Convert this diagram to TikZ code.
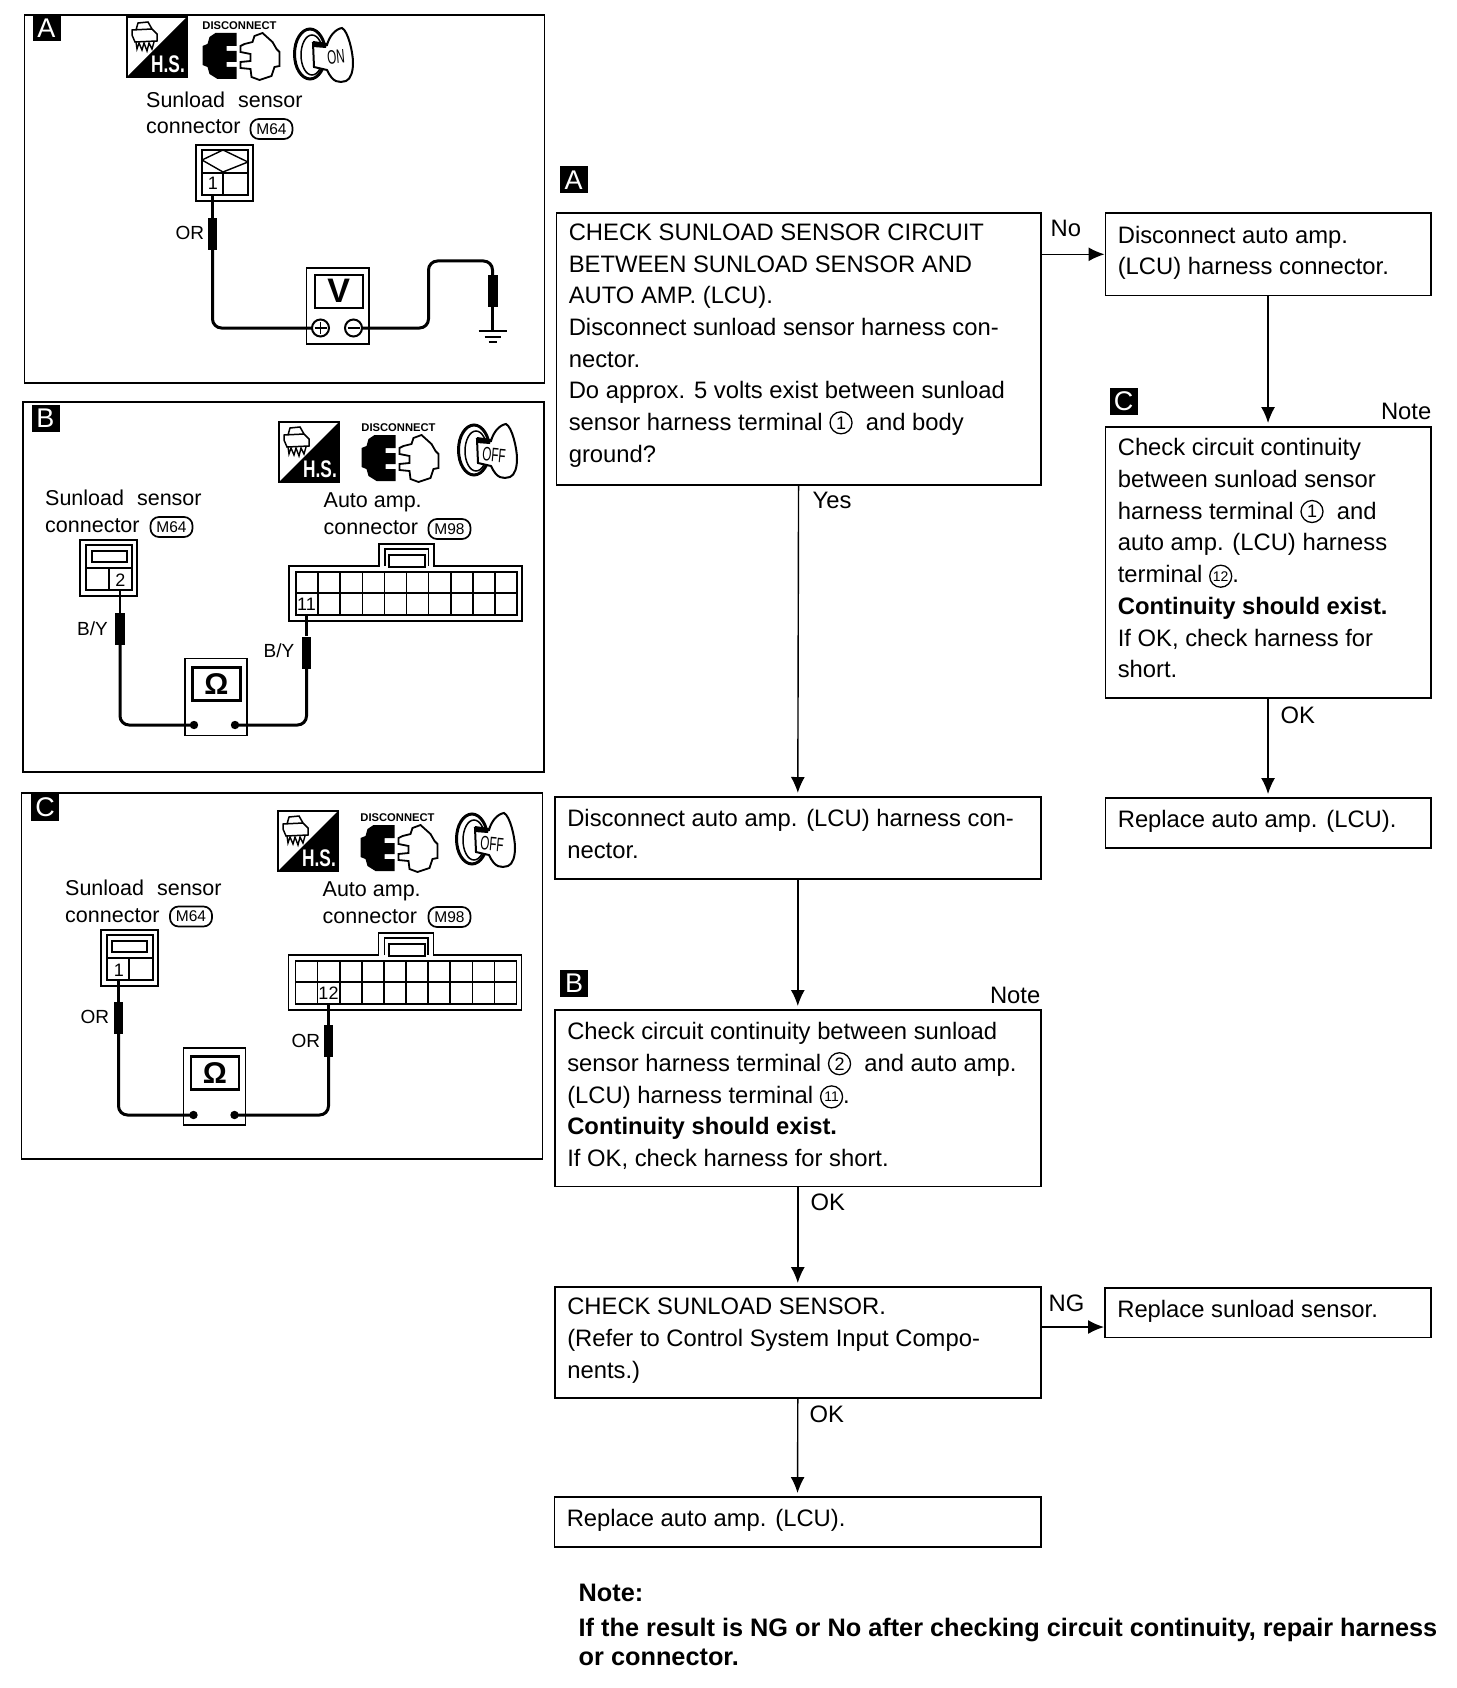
\documentclass[tikz,border=0pt]{standalone}
\usepackage{fontspec}
\setmainfont{Liberation Sans}
\usetikzlibrary{arrows.meta}
\newcommand\fsz[1]{\fontsize{#1}{#1}\selectfont}
\newcommand\cnum[2][18]{\raisebox{1.5pt}{\tikz[baseline={(cn.base)}]\node[circle,draw,line width=1.3pt,inner sep=0pt,minimum size=22pt,font=\fsz{#1}] (cn) {#2};}}
% text of a flow box: width, height, first baseline, text
\newcommand\fb[4]{\hspace*{12.5pt}\parbox[c][#2pt][t]{\dimexpr#1pt-13pt\relax}{\fontsize{23.8}{31.7}\selectfont\raggedright\rule{0pt}{#3pt}#4}}
\tikzset{
 x=1pt,y=-1pt,
 flow/.style={draw,line width=1.6pt,inner sep=0pt,anchor=north west,align=left},
 panel/.style={draw,line width=1.6pt,anchor=north west,inner sep=0pt},
 tag/.style={fill=black,text=white,inner sep=0pt,minimum width=28pt,minimum height=27pt,font=\fsz{27}},
 arr/.style={line width=1.4pt,-{Latex[length=16pt,width=14pt]}},
 dn/.style={arr,shorten >=3pt},
 tx/.style={anchor=base west,inner sep=0pt,font=\fsz{23.8}},
 lbl/.style={anchor=base west,inner sep=0pt,font=\fsz{21.5}},
 wl/.style={anchor=base west,inner sep=0pt,font=\fsz{19}},
 badge/.style={draw,line width=1.7pt,rounded corners=8.5pt,inner sep=0pt,minimum width=42pt,minimum height=20pt,font=\fsz{15.5}},
 probe/.style={fill=black,inner sep=0pt,minimum width=9.5pt,minimum height=32pt},
 wire/.style={line width=3pt,rounded corners=9pt},
 meter/.style={draw,line width=1.8pt,inner sep=0pt,anchor=north west,minimum width=62pt,minimum height=77pt},
 screen/.style={draw,line width=2.6pt,inner sep=0pt,anchor=north west,minimum width=48pt,minimum height=33pt,font=\bfseries\fsz{34}},
 omega/.style={screen,font=\bfseries\fsz{30}},
 term/.style={inner sep=0pt,font=\fsz{18}},
}
\newcommand\hsicon[2]{\begin{scope}[shift={(#1+1.5,#2)}]
 \fill (60,0) -- (60,60) -- (0,60) -- cycle;
 \draw[line width=1.6pt] (0,0) rectangle (60,60);
 \draw[line width=1.5pt] (9,13) -- (11,6) -- (21,5) -- (25,12) (5,13) -- (25,12) -- (30,17) -- (30,24) -- (8,25) -- (5,18) -- cycle;
 \draw[line width=1.4pt] (9,25) -- (10,32) -- (12,26) -- (15,33) -- (17,26) -- (20,34) -- (22,26) -- (25,32) -- (27,25);
 \node[text=white,inner sep=0pt,font=\bfseries\fsz{24}] at (41,47) {\scalebox{.72}[1]{H.S.}};
\end{scope}}
\newcommand\disc[2]{\begin{scope}[shift={(#1+1,#2)}]
 \node[inner sep=0pt,font=\bfseries\fsz{11.2}] at (38,-6) {DISCONNECT};
 \fill (1,14) -- (6,12) -- (8,5) -- (14,1) -- (35,1) -- (35,14) -- (25,14) -- (25,19) -- (35,19) -- (35,30) -- (25,30) -- (25,35) -- (35,35) -- (35,47) -- (16,47) -- (8,42) -- (6,35) -- (1,33) -- cycle;
 \draw[line width=1.8pt,fill=white] (43,12) -- (51,10) -- (53,4) -- (61,1) -- (71,10) -- (75,17) -- (78,20) -- (78,34) -- (73,35) -- (70,44) -- (58,48) -- (50,45) -- (49,37) -- (39,36) -- (39,30) -- (49,29) -- (49,22) -- (39,20) -- (39,14) -- cycle;
\end{scope}}
\newcommand\keyicon[6]{\begin{scope}[shift={(#1+1.5,#2+1)}]
 \draw[line width=3pt] (17,27) ellipse (15.5 and 25);
 \draw[line width=1.5pt] (19,28) ellipse (11 and 20);
 \draw[line width=2pt,fill=white] (20,16) -- (34,18) .. controls (36,10) and (42,2) .. (49,1) .. controls (55,4) and (60,25) .. (60,36) .. controls (60,44) and (58,52) .. (53,54) .. controls (46,56) and (40,56) .. (34,43) -- (21,40) -- cycle;
 \fill (20,14) -- (34,16) -- (33,21) -- (20,20) -- cycle;
 \node[inner sep=0pt,rotate=#4,font=\fsz{19.5}] at (#5,#6) {\scalebox{.6}[1]{#3}};
\end{scope}}
\newcommand\smallconn[4]{\begin{scope}[shift={(#1+1.5,#2)}]
 \draw[line width=1.6pt] (0,0) rectangle (57,56);
 \draw[line width=2pt] (6,5) rectangle (52,50);
 \draw[line width=1.8pt] (6,28) -- (52,28) (#3,28) -- (#3,50);
 #4
\end{scope}}
\newcommand\bigconn[2]{\begin{scope}[shift={(#1+1.5,#2)}]
 \draw[line width=1.8pt] (0,2) -- (90,2) -- (90,-20) -- (145,-20) -- (145,2) -- (233,2) -- (233,57) -- (0,57) -- cycle;
 \draw[line width=1.6pt] (96,2) -- (96,-15) -- (139.5,-15) -- (139.5,2);
 \draw[line width=2pt] (100,-9) rectangle (136,3);
 \draw[line width=1.6pt] (7,8) rectangle (228,51);
 \draw[line width=2pt] (7,29) -- (228,29);
 \foreach \i in {1,...,9} {\draw[line width=1.6pt] ({7+22.1*\i},8) -- ({7+22.1*\i},51);}
\end{scope}}
\newcommand\gnd[2]{\draw[line width=2.6pt] (#1-14,#2) -- (#1+14,#2) (#1-8,#2+6) -- (#1+8,#2+6) (#1-4,#2+11) -- (#1+4,#2+11);}
\begin{document}
\begin{tikzpicture}
\useasboundingbox (0,0) rectangle (1456,1688);
\begin{scope}[shift={(-1.5,-1)}]
% ---------- panel A
\node[panel,minimum width=520pt,minimum height=368pt] (pa) at (25,15) {};
\node[tag] (pat) at (48,29) {A};
\hsicon{127}{18}
\disc{202}{33}
\keyicon{293}{27}{ON}{5}{43}{30}
\node[lbl] (a1) at (147.5,109) {Sunload\hspace{13pt}sensor};
\node[lbl] (a2) at (147.5,135) {connector};
\node[badge] (am) at (273,130) {M64};
\smallconn{196}{146}{27}{\draw[line width=1.4pt] (6,15) -- (27,5) -- (52,17) (6,15) -- (27,27) -- (52,17); \draw[line width=2pt] (6,5) -- (52,5);}
\node[term] (at1) at (214.5,184) {1};
\coordinate (aw0) at (214,197);
\node[probe] (ap1) at (214,235) {};
\node[wl] (aor) at (177,241) {OR};
\node[meter,minimum width=62.5pt,minimum height=76pt] (am1) at (307,268) {};
\node[screen] (as1) at (315,274.5) {V};
\coordinate (apl) at (322,329);
\coordinate (amn) at (355,329);
\draw[wire] (aw0) -- (ap1.north);
\draw[wire] (ap1.south) -- (214,329) -- (apl);
\draw[line width=2pt,fill=white] (apl) circle (8.5);
\draw[line width=1.5pt] (316,329) -- (328,329) (322,323) -- (322,335);
\draw[line width=2pt,fill=white] (amn) circle (8.5);
\draw[line width=2.2pt] (349,329) -- (361,329);
\node[probe,minimum width=10pt] (ap2) at (494,292) {};
\coordinate (agn) at (494,332);
\draw[wire] (363.5,329) -- (430,329) -- (430,262) -- (494,262) -- (ap2.north);
\draw[line width=2.4pt] (ap2.south) -- (agn);
\gnd{494}{332}
% ---------- panel B
\node[panel,minimum width=521pt,minimum height=370pt] (pb) at (23.5,402) {};
\node[tag] (pbt) at (47,419) {B};
\hsicon{279}{423}
\disc{361}{435}
\keyicon{457}{423}{OFF}{-5}{37}{32}
\node[lbl] (b1) at (46.5,506) {Sunload\hspace{13pt}sensor};
\node[lbl] (b2) at (46.5,533) {connector};
\node[badge] (bm) at (173,528) {M64};
\node[lbl] (b3) at (325,508) {Auto\hspace{6pt}amp.};
\node[lbl] (b4) at (325,535) {connector};
\node[badge] (bn) at (451,530) {M98};
\smallconn{80}{541}{29}{\draw[line width=1.8pt] (12,11) rectangle (47,22);}
\node[term] (bt1) at (122,581) {2};
\bigconn{289}{565}
\node[term] (bt2) at (308,605) {11};
\coordinate (bw0) at (121.5,591);
\coordinate (bw1) at (308,616);
\node[probe] (bp1) at (121.5,630) {};
\node[probe] (bp2) at (308,653.5) {};
\node[wl] (bl1) at (78.5,636) {B/Y};
\node[wl] (bl2) at (265,658) {B/Y};
\node[meter] (bm1) at (185.5,658.5) {};
\node[omega] (bs1) at (192.5,667) {Ω};
\coordinate (bd1) at (195.5,726);
\coordinate (bd2) at (236.5,726);
\draw[line width=2.4pt] (bw0) -- (bp1.north);
\draw[wire] (bp1.south) -- (121.5,726) -- (bd1);
\draw[line width=2.4pt] (bw1) -- (bp2.north);
\draw[wire] (bp2.south) -- (308,726) -- (bd2);
\fill (bd1) circle (4.2) (bd2) circle (4.2);
% ---------- panel C
\node[panel,minimum width=521pt,minimum height=366pt] (pc) at (22,793) {};
\node[tag] (pct) at (46.5,808) {C};
\hsicon{278}{812}
\disc{360}{825}
\keyicon{455}{812}{OFF}{-5}{37}{32}
\node[lbl] (c1) at (66.5,896) {Sunload\hspace{13pt}sensor};
\node[lbl] (c2) at (66.5,923) {connector};
\node[badge] (cm) at (192.5,917.5) {M64};
\node[lbl] (c3) at (324,897) {Auto\hspace{6pt}amp.};
\node[lbl] (c4) at (324,924) {connector};
\node[badge] (cn1) at (451,918) {M98};
\smallconn{101}{931}{28}{\draw[line width=1.8pt] (11,11) rectangle (46,22);}
\node[term] (ct1) at (120.5,971) {1};
\bigconn{288.5}{954}
\node[term] (ct2) at (330,994) {12};
\coordinate (cw0) at (120,981);
\coordinate (cw1) at (330,1005);
\node[probe] (cp1) at (120,1019) {};
\node[probe] (cp2) at (330,1042) {};
\node[wl] (cl1) at (82,1024) {OR};
\node[wl] (cl2) at (293,1048) {OR};
\node[meter] (cm1) at (184,1048) {};
\node[omega] (cs1) at (191,1056) {Ω};
\coordinate (cd1) at (195,1116);
\coordinate (cd2) at (236,1116);
\draw[line width=2.4pt] (cw0) -- (cp1.north);
\draw[wire] (cp1.south) -- (120,1116) -- (cd1);
\draw[line width=2.4pt] (cw1) -- (cp2.north);
\draw[wire] (cp2.south) -- (330,1116) -- (cd2);
\fill (cd1) circle (4.2) (cd2) circle (4.2);
% ---------- flow chart
\node[tag] (fa) at (575,181) {A};
\node[tag] (fb) at (575.5,984) {B};
\node[tag] (fc) at (1125,402) {C};
\node[flow] (s1) at (557,213) {\fb{485}{272}{27.5}{CHECK SUNLOAD SENSOR CIRCUIT\\
BETWEEN SUNLOAD SENSOR AND\\
AUTO AMP. (LCU).\\
Disconnect sunload sensor harness con-\\
nector.\\
Do approx. 5 volts exist between sunload\\
sensor harness terminal \cnum{1}\ \ and body\\
ground?}};
\node[flow] (s2) at (1106,213.5) {\fb{326}{82}{30}{Disconnect auto amp.\\(LCU) harness connector.}};
\node[flow] (s3) at (1106,427) {\fb{326}{271}{29}{Check circuit continuity\\
between sunload sensor\\
harness terminal \cnum{1}\ \ and\\
auto amp. (LCU) harness\\
terminal \cnum[14]{12}.\\
\textbf{Continuity should exist.}\\
If OK, check harness for\\
short.}};
\node[flow] (s4) at (1106,798) {\fb{326}{50}{30}{Replace auto amp. (LCU).}};
\node[flow] (s5) at (555.5,797) {\fb{486.5}{82}{29.5}{Disconnect auto amp. (LCU) harness con-\\nector.}};
\node[flow] (s6) at (555.5,1010) {\fb{486.5}{176.5}{30}{Check circuit continuity between sunload\\
sensor harness terminal \cnum{2}\ \ and auto amp.\\
(LCU) harness terminal \cnum[14]{11}.\\
\textbf{Continuity should exist.}\\
If OK, check harness for short.}};
\node[flow] (s7) at (555.5,1287) {\fb{486.5}{111}{28}{CHECK SUNLOAD SENSOR.\\
(Refer to Control System Input Compo-\\
nents.)}};
\node[flow] (s8) at (1105.5,1288) {\fb{326.5}{49.5}{30}{Replace sunload sensor.}};
\node[flow] (s9) at (555,1497) {\fb{487}{50}{29.5}{Replace auto amp. (LCU).}};
\draw[arr] (s2.west -| s1.east) -- (s2.west);
\draw[dn] (s1.south) -- (s5.north);
\draw[dn] (s2.south) -- (s3.north);
\draw[dn] (s3.south) -- (s4.north);
\draw[dn] (s5.south) -- (s6.north);
\draw[dn] (s6.south) -- (s7.north);
\draw[dn] (s7.south) -- (s9.north);
\coordinate (ng) at (1105.5,1328);
\draw[arr] (ng -| s7.east) -- (ng -| s8.west);
\node[tx] (lno) at (1052,238) {No};
\node[tx] (lyes) at (814,509) {Yes};
\node[tx] (lok1) at (1282,724) {OK};
\node[tx] (lok2) at (812,1211) {OK};
\node[tx] (lok3) at (811,1423) {OK};
\node[tx] (lng) at (1050,1312) {NG};
\node[tx,anchor=base east] (ln1) at (1433,420) {Note};
\node[tx,anchor=base east] (ln2) at (1042,1004) {Note};
\node[tx,font=\bfseries\fsz{25.3}] (nt1) at (580,1602) {Note:};
\node[tx,font=\bfseries\fsz{25.3}] (nt2) at (580,1637) {If the result is NG or No after checking circuit continuity, repair harness};
\node[tx,font=\bfseries\fsz{25.3}] (nt3) at (580,1666) {or connector.};
\end{scope}
\end{tikzpicture}
\end{document}
